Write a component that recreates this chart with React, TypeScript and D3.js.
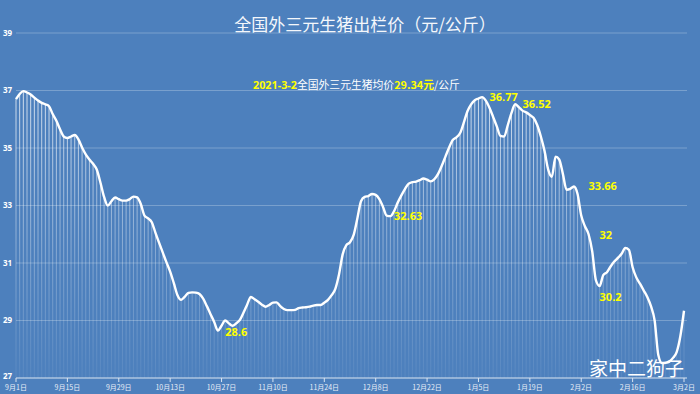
import React from "react";
import * as d3 from "d3";

const START_DATE = "2020-09-01";
const prices = [
  36.70, 36.88, 36.98, 36.93, 36.86, 36.75, 36.65, 36.57, 36.52, 36.45,
  36.18, 35.95, 35.65, 35.40, 35.35, 35.40, 35.45, 35.30, 35.02, 34.78,
  34.60, 34.45, 34.25, 33.80, 33.30, 33.00, 33.15, 33.28, 33.22, 33.17,
  33.17, 33.22, 33.31, 33.28, 33.05, 32.65, 32.55, 32.42, 32.05, 31.70,
  31.36, 31.02, 30.70, 30.30, 29.88, 29.72, 29.83, 29.96, 29.98, 29.97,
  29.92, 29.76, 29.50, 29.22, 28.95, 28.65, 28.82, 29.00, 28.90, 28.82,
  28.90, 29.02, 29.28, 29.56, 29.82, 29.74, 29.65, 29.55, 29.48, 29.54,
  29.62, 29.63, 29.50, 29.40, 29.36, 29.36, 29.37, 29.43, 29.45, 29.46,
  29.48, 29.52, 29.54, 29.54, 29.62, 29.72, 29.88, 30.10, 30.60, 31.30,
  31.62, 31.72, 31.98, 32.55, 33.15, 33.30, 33.33, 33.40, 33.37, 33.22,
  32.95, 32.65, 32.63, 32.80, 33.10, 33.35, 33.58, 33.76, 33.81, 33.83,
  33.88, 33.94, 33.90, 33.84, 33.92, 34.10, 34.38, 34.70, 35.02, 35.28,
  35.37, 35.52, 35.88, 36.28, 36.52, 36.66, 36.72, 36.77, 36.65, 36.40,
  36.08, 35.75, 35.42, 35.40, 35.80, 36.22, 36.52, 36.42, 36.30, 36.24,
  36.15, 36.05, 35.80, 35.40, 34.90, 34.25, 34.00, 34.70, 34.60, 34.10,
  33.55, 33.58, 33.66, 33.40, 32.65, 32.28, 32.00, 31.40, 30.40, 30.20,
  30.58, 30.68, 30.88, 31.05, 31.18, 31.32, 31.52, 31.46, 30.85, 30.50,
  30.28, 30.05, 29.82, 29.50, 29.00, 27.80, 27.52, 27.53, 27.57, 27.70,
  27.90, 28.45, 29.34,
];

const xTickDates = [
  "2020-09-01", "2020-09-15", "2020-09-29", "2020-10-13", "2020-10-27",
  "2020-11-10", "2020-11-24", "2020-12-08", "2020-12-22", "2021-01-05",
  "2021-01-19", "2021-02-02", "2021-02-16", "2021-03-02",
];
const xTickLabels = [
  "9月1日", "9月15日", "9月29日", "10月13日", "10月27日", "11月10日", "11月24日",
  "12月8日", "12月22日", "1月5日", "1月19日", "2月2日", "2月16日", "3月2日",
];
const yTicks = [27, 29, 31, 33, 35, 37, 39];

const annotationLabels = ["28.6", "36.77", "36.52", "32.63", "33.66", "32", "30.2"];
const annotationDates = ["2020-10-28", "2021-01-08", "2021-01-17", "2020-12-13", "2021-02-04", "2021-02-07", "2021-02-07"];
const annotationValues = [28.6, 36.77, 36.52, 32.62, 33.66, 31.98, 29.82];

const TITLE = "全国外三元生猪出栏价（元/公斤）";
const SUB_DATE = "2021-3-2";
const SUB_MID = "全国外三元生猪均价";
const SUB_PRICE = "29.34元";
const SUB_UNIT = "/公斤";
const WATERMARK = "家中二狗子";

const W = 700;
const H = 394;

export default function App() {
  const parse = d3.timeParse("%Y-%m-%d");
  const start = parse(START_DATE) as Date;
  const data = prices.map((v, i) => ({ date: d3.timeDay.offset(start, i), value: v }));

  const x = d3
    .scaleTime()
    .domain([start, parse(xTickDates[xTickDates.length - 1]) as Date])
    .range([16, 684]);
  const y = d3.scaleLinear().domain([27, 39]).range([378, 33]);

  const line = d3
    .line<{ date: Date; value: number }>()
    .x((d) => x(d.date))
    .y((d) => y(d.value))
    .curve(d3.curveMonotoneX);

  const cjk = "'Noto Sans CJK SC', 'Noto Sans', sans-serif";
  const num = "'Noto Sans', 'Open Sans', sans-serif";

  return (
    <svg
      width={W}
      height={H}
      style={{ position: "fixed", left: 0, top: 0, display: "block" }}
      xmlns="http://www.w3.org/2000/svg"
    >
      <defs>
        <linearGradient id="dropGrad" gradientUnits="userSpaceOnUse" x1="0" y1="95" x2="0" y2="378">
          <stop offset="0" stopColor="#ffffff" stopOpacity={0.75} />
          <stop offset="0.6" stopColor="#ffffff" stopOpacity={0.3} />
          <stop offset="1" stopColor="#ffffff" stopOpacity={0.06} />
        </linearGradient>
      </defs>
      <rect x={0} y={0} width={W} height={H} fill="#4d80bd" />

      {/* gridlines */}
      {yTicks.slice(1).map((t) => (
        <line key={t} x1={16} x2={687} y1={y(t)} y2={y(t)} stroke="#ffffff" strokeOpacity={0.25} strokeWidth={1} />
      ))}

      {/* y labels */}
      {yTicks.map((t) => (
        <text key={t} x={3} y={y(t) - (t === 27 ? 2 : 0)} dy="0.35em" fill="#ffffff" fontSize={8} fontWeight="bold" fontFamily={num}>
          {t}
        </text>
      ))}

      {/* drop lines */}
      {data.map((d, i) => (
        <line
          key={i}
          x1={x(d.date)}
          x2={x(d.date)}
          y1={y(d.value)}
          y2={378}
          stroke="url(#dropGrad)"
          strokeWidth={1}
        />
      ))}

      {/* x axis */}
      <line x1={16} x2={687} y1={378} y2={378} stroke="#dbe5f1" strokeWidth={1.2} />
      {xTickDates.map((s, i) => {
        const px = x(parse(s) as Date);
        return (
          <g key={s}>
            <line x1={px} x2={px} y1={378} y2={382} stroke="#dbe5f1" strokeWidth={1} />
            <text x={px} y={390} textAnchor="middle" fill="#e8eef7" fontSize={7} fontFamily={cjk}>
              {xTickLabels[i]}
            </text>
          </g>
        );
      })}

      {/* main line */}
      <path d={line(data) || ""} fill="none" stroke="#ffffff" strokeWidth={2.4} strokeLinejoin="round" />

      {/* title */}
      <text x={365} y={31} textAnchor="middle" fill="#f4f7fb" fontSize={17} fontWeight={400} fontFamily={cjk}>
        {TITLE}
      </text>

      {/* subtitle */}
      <text x={253} y={89} fontSize={10.8} fontFamily={cjk}>
        <tspan fill="#ffff00" fontWeight="bold" fontFamily={num}>{SUB_DATE}</tspan>
        <tspan fill="#ffffff">{SUB_MID}</tspan>
        <tspan fill="#ffff00" fontWeight="bold">{SUB_PRICE}</tspan>
        <tspan fill="#ffffff">{SUB_UNIT}</tspan>
      </text>

      {/* annotations */}
      {annotationLabels.map((lab, i) => (
        <text
          key={lab}
          x={x(parse(annotationDates[i]) as Date)}
          y={y(annotationValues[i])}
          dy="0.35em"
          fill="#ffff00"
          fontSize={11}
          fontWeight="bold"
          fontFamily={num}
        >
          {lab}
        </text>
      ))}

      {/* watermark */}
      <text x={589} y={376} fill="#ffffff" fontSize={19} fontFamily={cjk}>
        {WATERMARK}
      </text>
    </svg>
  );
}
